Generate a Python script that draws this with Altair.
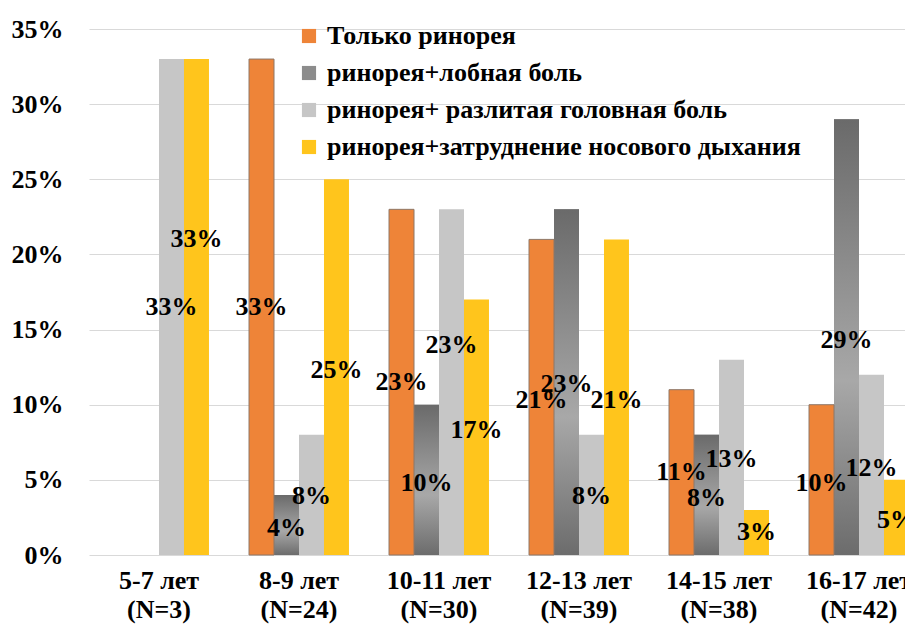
import altair as alt
import pandas as pd

ages = ["5-7 лет", "8-9 лет", "10-11 лет", "12-13 лет", "14-15 лет", "16-17 лет"]
counts = ["(N=3)", "(N=24)", "(N=30)", "(N=39)", "(N=38)", "(N=42)"]
series = [
    "Только ринорея",
    "ринорея+лобная боль",
    "ринорея+ разлитая головная боль",
    "ринорея+затруднение носового дыхания",
]
only_rhinorrhea = [0, 33, 23, 21, 11, 10]
frontal_pain = [0, 4, 10, 23, 8, 29]
diffuse_headache = [33, 8, 23, 8, 13, 12]
nasal_obstruction = [33, 25, 17, 21, 3, 5]
# label positions (in % units) where the data labels sit
label_pos = [
    [0, 16.5, 11.5, 10.3, 5.5, 4.8],
    [0, 1.8, 4.8, 11.4, 3.8, 14.3],
    [16.5, 3.9, 14, 3.9, 6.4, 5.8],
    [21, 12.3, 8.3, 10.3, 1.5, 2.3],
]
colors = ["#EE8438", "#8C8C8C", "#C6C6C6", "#FFC51C"]

groups = [f"{a}\n{n}" for a, n in zip(ages, counts)]
vals = [only_rhinorrhea, frontal_pain, diffuse_headache, nasal_obstruction]
rows = []
for gi, g in enumerate(groups):
    for si, s in enumerate(series):
        rows.append(dict(group=g, series=s, value=vals[si][gi] / 100, pos=label_pos[si][gi] / 100))
df = pd.DataFrame(rows)

FONT = "Liberation Serif"
FS = 26

x = alt.X(
    "group:N", sort=groups,
    scale=alt.Scale(range=[0, 840], paddingInner=0.286, paddingOuter=0.143),
    axis=alt.Axis(title=None, labelExpr="split(datum.label, '\\n')", labelFont=FONT,
                  labelFontSize=FS, labelFontWeight="bold", labelColor="black",
                  labelLineHeight=29, labelPadding=12, ticks=False, domain=False,
                  labelAngle=0, grid=False),
)
xo = alt.XOffset("series:N", sort=series,
                 scale=alt.Scale(domain=series, paddingInner=0, paddingOuter=0))
y = alt.Y(
    "value:Q", scale=alt.Scale(domain=[0, 0.35]),
    axis=alt.Axis(title=None, values=[0, 0.05, 0.10, 0.15, 0.20, 0.25, 0.30, 0.35],
                  format=".0%", labelFont=FONT, labelFontSize=FS, labelFontWeight="bold",
                  labelColor="black", ticks=False, domain=False, gridColor="#D9D9D9",
                  gridWidth=1.2, labelPadding=26),
)

base = alt.Chart(df)

bars = base.mark_bar().encode(
    x=x, xOffset=xo, y=y,
    color=alt.Color(
        "series:N", sort=series,
        scale=alt.Scale(domain=series, range=colors),
        legend=alt.Legend(orient="none", legendX=207, legendY=-6, title=None,
                          symbolType="square", symbolSize=200, labelFont=FONT,
                          labelFontSize=FS, labelFontWeight="bold", labelColor="black",
                          labelLimit=800, rowPadding=11, labelOffset=5, padding=0,
                          symbolStrokeWidth=0),
    ),
)

gray_grad = alt.LinearGradient(
    gradient="linear",
    stops=[
        alt.GradientStop(color="#6A6A6A", offset=0),
        alt.GradientStop(color="#A8A8A8", offset=0.6),
        alt.GradientStop(color="#6C6C6C", offset=1),
    ],
    x1=0, x2=0, y1=0, y2=1,
)
gray_bars = base.mark_bar(color=gray_grad).encode(x=x, xOffset=xo, y=y).transform_filter(
    alt.datum.series == series[1]
)
orange_edge = base.mark_bar(fillOpacity=0, stroke="#8E7767", strokeWidth=1).encode(
    x=x, xOffset=xo, y=y
).transform_filter((alt.datum.series == series[0]) & (alt.datum.value > 0))

labels = base.mark_text(font=FONT, fontSize=FS, fontWeight="bold", color="black",
                        baseline="middle").encode(
    x=x, xOffset=xo,
    y=alt.Y("pos:Q"),
    text=alt.Text("value:Q", format=".0%"),
).transform_filter(alt.datum.value > 0)

chart = alt.layer(bars, gray_bars, orange_edge, labels).properties(
    width=816, height=526,
    autosize=alt.AutoSizeParams(type="none"),
    padding={"left": 81, "top": 21, "right": 0, "bottom": 70},
    background="white",
).configure_view(stroke=None)

chart.save("out.html", embed_options={"renderer": "svg", "actions": False})
